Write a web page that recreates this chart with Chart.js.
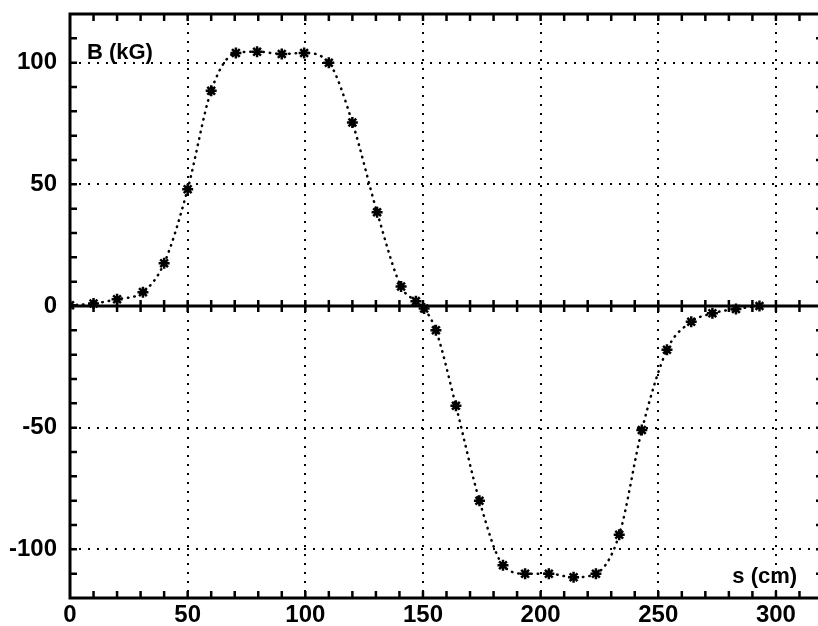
<!DOCTYPE html>
<html><head><meta charset="utf-8">
<script src="https://cdn.jsdelivr.net/npm/chart.js@4/dist/chart.umd.min.js"></script>
<style>html,body{margin:0;padding:0;background:#fff;overflow:hidden}#wrap{position:relative;width:823px;height:626px}</style>
</head><body><div id="wrap"><canvas id="c" width="823" height="626"></canvas></div>
<script>
// s position (cm) of each measured point
const sPositions = [0, 10, 20, 31, 40, 50, 60, 70.5, 79.5, 90, 99.5, 110, 120, 130.5, 140.7, 147, 150.5, 155.5, 164, 174, 184, 193.4, 203.5, 214, 223.5, 233.4, 243, 253.7, 264, 273, 283, 293];
// field B (kG) at each point
const bField = [0.3, 1, 2.8, 5.7, 17.6, 48, 88.5, 104, 104.5, 103.6, 104, 100, 75.4, 38.5, 8, 2, -1, -10, -41, -80, -106.5, -110, -110, -111.5, -110, -94, -51, -18, -6.5, -3, -1.2, 0];
const xTickLabels = [0, 50, 100, 150, 200, 250, 300];
const yTickLabels = [-100, -50, 0, 50, 100];
const yAxisTitle = 'B (kG)';
const xAxisTitle = 's (cm)';

const FONT = "'Liberation Sans',Arial,sans-serif";

const points = sPositions.map((s, i) => ({x: s, y: bField[i]}));

const frameAndTicks = {
  id: 'frameAndTicks',
  beforeDatasetsDraw(chart) {
    const {ctx, chartArea: a, scales: {x, y}} = chart;
    ctx.save();
    ctx.strokeStyle = '#000';
    ctx.setLineDash([]);
    ctx.lineWidth = 3;
    ctx.strokeRect(a.left, a.top, a.right - a.left, a.bottom - a.top);
    const y0 = y.getPixelForValue(0);
    ctx.beginPath(); ctx.moveTo(a.left, y0); ctx.lineTo(a.right, y0); ctx.stroke();
    ctx.lineWidth = 2.5;
    ctx.beginPath();
    for (let v = 10; v < 320; v += 10) {
      const px = x.getPixelForValue(v);
      ctx.moveTo(px, a.top); ctx.lineTo(px, a.top + 7);
      ctx.moveTo(px, a.bottom); ctx.lineTo(px, a.bottom - 7);
      ctx.moveTo(px, y0 - 6); ctx.lineTo(px, y0 + 6);
    }
    for (let v = -110; v < 120; v += 10) {
      if (v === 0) continue;
      const py = y.getPixelForValue(v);
      ctx.moveTo(a.left, py); ctx.lineTo(a.left + 7, py);
      ctx.moveTo(a.right, py); ctx.lineTo(a.right - 7, py);
    }
    ctx.stroke();
    ctx.fillStyle = '#000';
    ctx.font = 'bold 22px ' + FONT;
    ctx.textBaseline = 'middle';
    ctx.textAlign = 'left';
    ctx.fillText(yAxisTitle, x.getPixelForValue(7.2), y.getPixelForValue(104));
    ctx.textAlign = 'right';
    ctx.fillText(xAxisTitle, x.getPixelForValue(309), y.getPixelForValue(-111.5));
    ctx.restore();
  }
};

const isMajor = (v, lo, hi) => v % 50 === 0 && v > lo && v < hi;

new Chart(document.getElementById('c'), {
  type: 'line',
  data: {
    datasets: [{
      data: points,
      borderColor: '#000',
      borderWidth: 2.5,
      borderDash: [0.5, 6],
      borderCapStyle: 'round',
      cubicInterpolationMode: 'monotone',
      pointStyle: 'star',
      pointRadius: 5.5,
      pointBorderWidth: 2.5,
      pointBorderColor: '#000',
      pointBackgroundColor: '#000'
    }]
  },
  options: {
    responsive: false,
    animation: false,
    devicePixelRatio: 1,
    layout: {autoPadding: false, padding: {top: 14, right: 0, left: 0, bottom: 0}},
    plugins: {legend: {display: false}, tooltip: {enabled: false}},
    scales: {
      x: {
        type: 'linear', min: 0, max: 320,
        afterBuildTicks: s => { const t = []; for (let v = 0; v <= 320; v += 10) t.push({value: v}); s.ticks = t; },
        afterFit: s => { s.height = 28; s.paddingLeft = 0; s.paddingRight = 0; },
        ticks: {
          autoSkip: false, maxRotation: 0, minRotation: 0, padding: 3, color: '#000',
          font: {family: FONT, weight: 'bold', size: 24},
          callback: v => xTickLabels.includes(v) ? String(v) : ''
        },
        grid: {
          drawTicks: false,
          lineWidth: 2,
          color: c => (c.tick && isMajor(c.tick.value, 0, 320)) ? '#000' : 'rgba(0,0,0,0)'
        },
        border: {display: false, dash: [2, 7]}
      },
      y: {
        type: 'linear', min: -120, max: 120,
        afterBuildTicks: s => { const t = []; for (let v = -120; v <= 120; v += 10) t.push({value: v}); s.ticks = t; },
        afterFit: s => { s.width = 70; s.paddingTop = 0; s.paddingBottom = 0; },
        ticks: {
          autoSkip: false, padding: 13, color: '#000',
          font: {family: FONT, weight: 'bold', size: 24},
          callback: v => yTickLabels.includes(v) ? String(v) : ''
        },
        grid: {
          drawTicks: false,
          lineWidth: 2,
          color: c => (c.tick && c.tick.value !== 0 && isMajor(c.tick.value, -120, 120)) ? '#000' : 'rgba(0,0,0,0)'
        },
        border: {display: false, dash: [2, 7]}
      }
    }
  },
  plugins: [frameAndTicks]
});
</script>
</body></html>
